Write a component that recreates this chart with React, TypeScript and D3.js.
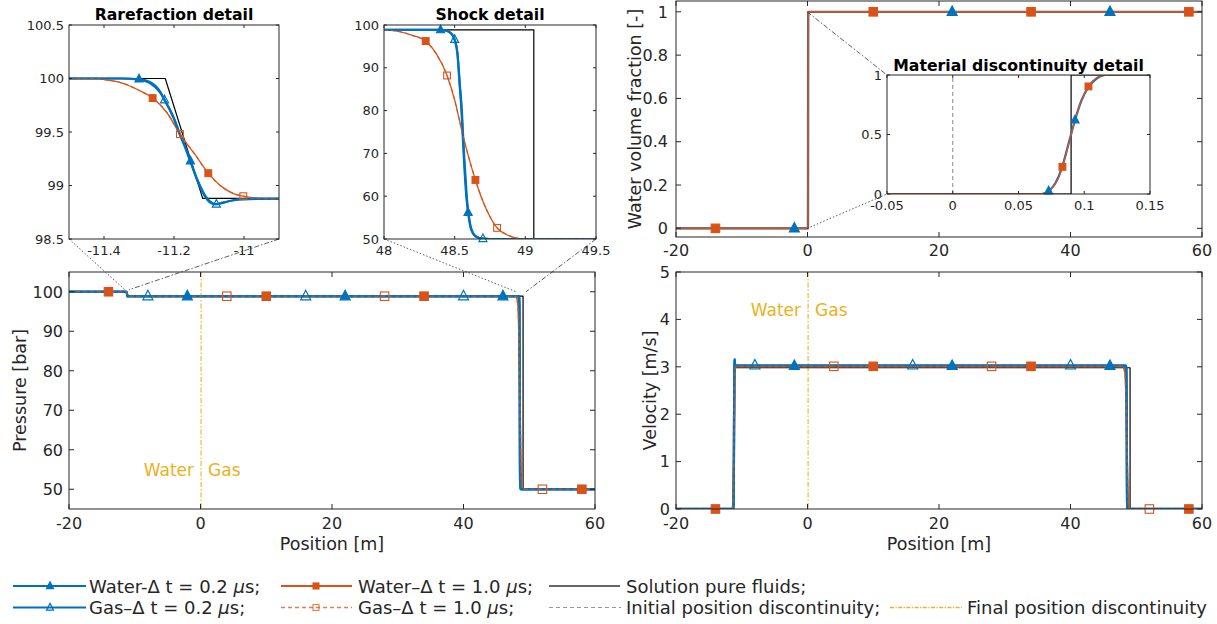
import React from "react";
import * as d3 from "d3";

type Pt = [number, number];

// ---------------- Tick values ----------------
const mainXTicks = [-20, 0, 20, 40, 60];
const pressureTicks = [50, 60, 70, 80, 90, 100];
const velocityTicks = [0, 1, 2, 3, 4, 5];
const fractionTicks = [0, 0.2, 0.4, 0.6, 0.8, 1];
const rareXTicks = [-11.4, -11.2, -11];
const rareYTicks = [98.5, 99, 99.5, 100, 100.5];
const shockXTicks = [48, 48.5, 49, 49.5];
const shockYTicks = [50, 60, 70, 80, 90, 100];
const matXTicks = [-0.05, 0, 0.05, 0.1, 0.15];
const matYTicks = [0, 0.5, 1];

// ---------------- Domains ----------------
const mainXDomain: Pt = [-20, 60];
const pressureDomain: Pt = [45, 105];
const velocityDomain: Pt = [0, 5];
const fractionDomain: Pt = [-0.04, 1.05];
const rareXDomain: Pt = [-11.5, -10.9];
const rareYDomain: Pt = [98.5, 100.5];
const shockXDomain: Pt = [48, 49.5];
const shockYDomain: Pt = [50, 100];
const matXDomain: Pt = [-0.05, 0.15];
const matYDomain: Pt = [0, 1];

// ---------------- Pressure [bar] ----------------
const pressureWater02: Pt[] = [
  [-20, 100], [-11.5, 100], [-11.35, 100], [-11.3, 99.995], [-11.27, 99.97], [-11.24, 99.88],
  [-11.227, 99.8], [-11.2, 99.63], [-11.184, 99.49], [-11.17, 99.38], [-11.153, 99.23],
  [-11.13, 99.03], [-11.11, 98.9], [-11.09, 98.835], [-11.079, 98.825], [-11.06, 98.84],
  [-11.03, 98.862], [-11.0, 98.872], [-10.95, 98.875], [48.0, 98.87], [48.4, 98.86],
  [48.44, 98.7], [48.48, 97.8], [48.5, 96.5], [48.52, 93], [48.535, 86], [48.548, 80],
  [48.557, 74], [48.565, 69], [48.571, 65.4], [48.585, 59], [48.595, 56.2], [48.61, 53],
  [48.63, 51.3], [48.66, 50.4], [48.697, 50.1], [48.75, 50], [60, 50],
];
const pressureGas02: Pt[] = [
  [-20, 100], [-11.5, 100], [-11.35, 100], [-11.3, 99.99], [-11.27, 99.96], [-11.24, 99.87],
  [-11.227, 99.8], [-11.2, 99.62], [-11.184, 99.48], [-11.17, 99.37], [-11.153, 99.22],
  [-11.13, 99.02], [-11.11, 98.89], [-11.09, 98.83], [-11.079, 98.825], [-11.06, 98.84],
  [-11.03, 98.862], [-11.0, 98.872], [-10.95, 98.875], [48.0, 98.87], [48.4, 98.86],
  [48.44, 98.72], [48.48, 97.9], [48.5, 96.6], [48.52, 93.5], [48.537, 86], [48.551, 80],
  [48.56, 74], [48.568, 69], [48.575, 65.4], [48.588, 59], [48.598, 56], [48.613, 53],
  [48.633, 51.2], [48.663, 50.35], [48.7, 50.08], [48.75, 50], [60, 50],
];
const pressureWater10: Pt[] = [
  [-20, 100], [-11.5, 100], [-11.42, 100], [-11.39, 99.985], [-11.35, 99.96], [-11.3, 99.89],
  [-11.261, 99.817], [-11.22, 99.68], [-11.183, 99.48], [-11.14, 99.29], [-11.102, 99.115],
  [-11.06, 98.98], [-11.03, 98.925], [-11.002, 98.9], [-10.96, 98.88], [-10.9, 98.875],
  [48.0, 98.85], [48.1, 98.5], [48.2, 97.6], [48.295, 96.25], [48.37, 93.3], [48.446, 88.2],
  [48.5, 82.5], [48.555, 74.7], [48.6, 69], [48.647, 63.8], [48.7, 58.8], [48.75, 55.2],
  [48.8, 52.6], [48.87, 51], [48.96, 50.1], [49.1, 50], [60, 50],
];
const pressureGas10: Pt[] = [
  [-20, 100], [-11.5, 100], [-11.42, 100], [-11.39, 99.985], [-11.35, 99.96], [-11.3, 99.89],
  [-11.261, 99.815], [-11.22, 99.68], [-11.183, 99.48], [-11.14, 99.29], [-11.102, 99.11],
  [-11.06, 98.98], [-11.03, 98.925], [-11.002, 98.9], [-10.96, 98.88], [-10.9, 98.875],
  [48.0, 98.85], [48.1, 98.5], [48.2, 97.6], [48.295, 96.2], [48.37, 93.2], [48.446, 88.2],
  [48.5, 82.4], [48.555, 74.6], [48.6, 69], [48.647, 63.8], [48.7, 58.8], [48.75, 55.2],
  [48.8, 52.6], [48.87, 51], [48.96, 50.1], [49.1, 50], [60, 50],
];
const pressureExact: Pt[] = [
  [-20, 100], [-11.225, 100], [-11.118, 98.88], [49.06, 98.88], [49.06, 50], [60, 50],
];

// markers (position, value)
const pressureMarkW02: Pt[] = [[-2, 98.87], [22, 98.87], [46, 98.87]];
const pressureMarkG02: Pt[] = [[-8, 98.87], [16, 98.87], [40, 98.87]];
const pressureMarkW10: Pt[] = [[-14, 100], [10, 98.87], [34, 98.87], [58, 50]];
const pressureMarkG10: Pt[] = [[4, 98.87], [28, 98.87], [52, 50]];

const rareMarkW02: Pt[] = [[-11.3, 99.995], [-11.153, 99.23]];
const rareMarkG02: Pt[] = [[-11.227, 99.8], [-11.079, 98.825]];
const rareMarkW10: Pt[] = [[-11.261, 99.817], [-11.102, 99.115]];
const rareMarkG10: Pt[] = [[-11.183, 99.48], [-11.002, 98.9]];

const shockMarkW02: Pt[] = [[48.4, 98.86], [48.595, 56.2]];
const shockMarkG02: Pt[] = [[48.5, 96.6], [48.7, 50.08]];
const shockMarkW10: Pt[] = [[48.295, 96.25], [48.647, 63.8]];
const shockMarkG10: Pt[] = [[48.446, 88.2], [48.8, 52.6]];

// ---------------- Velocity [m/s] ----------------
const velocityWater02: Pt[] = [
  [-20, 0], [-11.4, 0], [-11.3, 0.01], [-11.27, 0.08], [-11.227, 0.53], [-11.184, 1.37],
  [-11.153, 2.06], [-11.13, 2.6], [-11.11, 2.94], [-11.09, 3.1], [-11.079, 3.14], [-11.06, 3.1],
  [-11.03, 3.04], [-10.95, 3.02], [48.4, 3.02], [48.48, 2.98], [48.5, 2.87], [48.52, 2.6],
  [48.535, 2.22], [48.557, 1.48], [48.571, 0.95], [48.585, 0.56], [48.595, 0.38], [48.61, 0.18],
  [48.63, 0.08], [48.66, 0.02], [48.7, 0], [60, 0],
];
const velocityGas02: Pt[] = [
  [-20, 0], [-11.4, 0], [-11.3, 0.01], [-11.27, 0.09], [-11.227, 0.55], [-11.184, 1.4],
  [-11.153, 2.1], [-11.13, 2.62], [-11.11, 2.96], [-11.09, 3.12], [-11.079, 3.16], [-11.06, 3.11],
  [-11.03, 3.05], [-10.95, 3.03], [48.4, 3.03], [48.48, 2.99], [48.5, 2.9], [48.52, 2.65],
  [48.537, 2.22], [48.56, 1.48], [48.575, 0.95], [48.588, 0.56], [48.598, 0.37], [48.613, 0.17],
  [48.633, 0.07], [48.663, 0.02], [48.7, 0], [60, 0],
];
const velocityWater10: Pt[] = [
  [-20, 0], [-11.42, 0], [-11.39, 0.04], [-11.35, 0.11], [-11.3, 0.29], [-11.261, 0.49],
  [-11.22, 0.85], [-11.183, 1.39], [-11.14, 1.9], [-11.102, 2.38], [-11.06, 2.74],
  [-11.03, 2.88], [-11.002, 2.95], [-10.96, 2.99], [-10.9, 3.01], [48.0, 3.01], [48.1, 2.98],
  [48.2, 2.93], [48.295, 2.85], [48.37, 2.67], [48.446, 2.35], [48.5, 2.0], [48.555, 1.52],
  [48.6, 1.17], [48.647, 0.85], [48.7, 0.54], [48.75, 0.32], [48.8, 0.16], [48.87, 0.06],
  [48.96, 0.01], [49.1, 0], [60, 0],
];
const velocityGas10: Pt[] = [
  [-20, 0], [-11.42, 0], [-11.39, 0.04], [-11.35, 0.11], [-11.3, 0.29], [-11.261, 0.5],
  [-11.22, 0.86], [-11.183, 1.39], [-11.14, 1.9], [-11.102, 2.39], [-11.06, 2.74],
  [-11.03, 2.88], [-11.002, 2.95], [-10.96, 2.99], [-10.9, 3.01], [48.0, 3.01], [48.1, 2.98],
  [48.2, 2.93], [48.295, 2.84], [48.37, 2.66], [48.446, 2.35], [48.5, 2.0], [48.555, 1.51],
  [48.6, 1.17], [48.647, 0.85], [48.7, 0.54], [48.75, 0.32], [48.8, 0.16], [48.87, 0.06],
  [48.96, 0.01], [49.1, 0], [60, 0],
];
const velocityExact: Pt[] = [
  [-20, 0], [-11.225, 0], [-11.118, 2.98], [49.06, 2.98], [49.06, 0], [60, 0],
];
const velocityMarkW02: Pt[] = [[-2, 3.02], [22, 3.02], [46, 3.02]];
const velocityMarkG02: Pt[] = [[-8, 3.03], [16, 3.03], [40, 3.03]];
const velocityMarkW10: Pt[] = [[-14, 0], [10, 3.01], [34, 3.01], [58, 0]];
const velocityMarkG10: Pt[] = [[4, 3.01], [28, 3.01], [52, 0]];

// ---------------- Water volume fraction [-] ----------------
const fractionWater02: Pt[] = [
  [-20, 0], [0.068, 0], [0.0729, 0.025], [0.078, 0.09], [0.083, 0.22], [0.088, 0.42],
  [0.093, 0.622], [0.098, 0.79], [0.104, 0.91], [0.11, 0.975], [0.116, 1], [60, 1],
];
const fractionWater10: Pt[] = [
  [-20, 0], [0.066, 0], [0.07, 0.01], [0.075, 0.045], [0.08, 0.125], [0.0834, 0.228],
  [0.087, 0.37], [0.09, 0.5], [0.093, 0.62], [0.097, 0.76], [0.1032, 0.904], [0.108, 0.965],
  [0.113, 0.993], [0.118, 1], [60, 1],
];
const fractionExact: Pt[] = [[-20, 0], [0.09, 0], [0.09, 1], [60, 1]];
const fractionMarkW02: Pt[] = [[-2, 0], [22, 1], [46, 1]];
const fractionMarkW10: Pt[] = [[-14, 0], [10, 1], [34, 1], [58, 1]];
const matMarkW02: Pt[] = [[0.0729, 0.025], [0.093, 0.622]];
const matMarkW10: Pt[] = [[0.0834, 0.228], [0.1032, 0.904]];

const initialInterface = 0;
const finalInterface = 0.09;

// ---------------- Styling / layout ----------------
const BLUE = "#0072BD";
const ORANGE = "#D95319";
const YELLOW = "#EDB120";
const AX = "#262626";
const FONT = "'DejaVu Sans', sans-serif";

type Box = [number, number, number, number];
const P_BOX: Box = [69, 272, 595, 509];
const V_BOX: Box = [676, 272, 1202, 509];
const F_BOX: Box = [676, 1, 1202, 237];
const R_BOX: Box = [69, 25, 279, 239];
const S_BOX: Box = [384, 25, 596, 239];
const M_BOX: Box = [887, 75, 1150, 194];

const fmt = (v: number) => String(+v.toFixed(4));

type LineSpec = { data: Pt[]; color: string; width: number; dash?: string; smooth?: boolean; opacity?: number };
type MarkSpec = { data: Pt[]; shape: "tri" | "sq"; filled: boolean; color: string; size: number };

function Marker({ shape, filled, color, size, x, y, opacity }: any) {
  if (shape === "tri") {
    const h = size * 0.95;
    const d = `M${x},${y - h * 0.62}L${x + size / 2},${y + h * 0.38}L${x - size / 2},${y + h * 0.38}Z`;
    return <path d={d} fill={filled ? color : "none"} stroke={color} strokeWidth={1.2} strokeOpacity={opacity ?? 1} />;
  }
  return (
    <rect x={x - size / 2} y={y - size / 2} width={size} height={size}
      fill={filled ? color : "none"} stroke={color} strokeWidth={1.1} strokeOpacity={opacity ?? 1} />
  );
}

function mkScales(box: Box, xd: Pt, yd: Pt) {
  const xs = d3.scaleLinear().domain(xd).range([box[0], box[2]]);
  const ys = d3.scaleLinear().domain(yd).range([box[3], box[1]]);
  return { xs, ys };
}

function Axes(props: {
  id: string; box: Box; xs: any; ys: any; xTicks: number[]; yTicks: number[];
  lines: LineSpec[]; marks: MarkSpec[]; tickLen: number; fontSize: number;
  xLabelDy: number; yLabelDx: number; bg?: boolean; under?: React.ReactNode; over?: React.ReactNode;
}) {
  const { id, box, xs, ys, xTicks, yTicks, lines, marks, tickLen, fontSize, xLabelDy, yLabelDx, bg, under, over } = props;
  const [L, T, R, B] = box;
  return (
    <g>
      {bg && <rect x={L} y={T} width={R - L} height={B - T} fill="#fff" />}
      <defs>
        <clipPath id={id}><rect x={L} y={T} width={R - L} height={B - T} /></clipPath>
      </defs>
      <g clipPath={`url(#${id})`}>
        {under}
        {lines.map((s, i) => {
          const gen = d3.line<Pt>().x((d) => xs(d[0])).y((d) => ys(d[1]))
            .curve(s.smooth ? d3.curveMonotoneX : d3.curveLinear);
          return (
            <path key={i} d={gen(s.data) || ""} fill="none" stroke={s.color} strokeWidth={s.width}
              strokeDasharray={s.dash} strokeOpacity={s.opacity ?? 1} strokeLinejoin="round" />
          );
        })}
        {over}
      </g>
      {marks.map((m, i) => (
        <g key={i}>
          {m.data.map((p, j) => (
            <Marker key={j} shape={m.shape} filled={m.filled} color={m.color} size={m.size}
              x={xs(p[0])} y={ys(p[1])} />
          ))}
        </g>
      ))}
      <rect x={L} y={T} width={R - L} height={B - T} fill="none" stroke={AX} strokeWidth={1} />
      {xTicks.map((t) => (
        <g key={"x" + t}>
          <line x1={xs(t)} x2={xs(t)} y1={B} y2={B - tickLen} stroke={AX} />
          <line x1={xs(t)} x2={xs(t)} y1={T} y2={T + tickLen} stroke={AX} />
          <text x={xs(t)} y={B + xLabelDy} textAnchor="middle" fontSize={fontSize} fill={AX} fontFamily={FONT}>{fmt(t)}</text>
        </g>
      ))}
      {yTicks.map((t) => (
        <g key={"y" + t}>
          <line x1={L} x2={L + tickLen} y1={ys(t)} y2={ys(t)} stroke={AX} />
          <line x1={R} x2={R - tickLen} y1={ys(t)} y2={ys(t)} stroke={AX} />
          <text x={L - yLabelDx} y={ys(t) + fontSize * 0.36} textAnchor="end" fontSize={fontSize} fill={AX} fontFamily={FONT}>{fmt(t)}</text>
        </g>
      ))}
    </g>
  );
}

// plotting order: water series first, then gas series
function phaseLines(w02: Pt[], g02: Pt[] | null, w10: Pt[], g10: Pt[] | null, exact: Pt[], inset: boolean): LineSpec[] {
  const bw = inset ? 2.2 : 2.4;
  const ow = inset ? 1.3 : 1.6;
  const out: LineSpec[] = [{ data: exact, color: "#000", width: 1.2 }];
  out.push({ data: w02, color: BLUE, width: bw, smooth: true });
  out.push({ data: w10, color: ORANGE, width: ow, smooth: true });
  if (g02) out.push({ data: g02, color: BLUE, width: bw, smooth: true });
  if (g10) out.push({ data: g10, color: ORANGE, width: ow, dash: "4,3", smooth: true, opacity: 0.75 });
  return out;
}

function phaseMarks(w02: Pt[], g02: Pt[] | null, w10: Pt[], g10: Pt[] | null, size: number): MarkSpec[] {
  const out: MarkSpec[] = [{ data: w02, shape: "tri", filled: true, color: BLUE, size }];
  out.push({ data: w10, shape: "sq", filled: true, color: ORANGE, size: size * 0.85 });
  if (g02) out.push({ data: g02, shape: "tri", filled: false, color: BLUE, size });
  if (g10) out.push({ data: g10, shape: "sq", filled: false, color: ORANGE, size: size * 0.85 });
  return out;
}

export default function App() {
  const P = mkScales(P_BOX, mainXDomain, pressureDomain);
  const V = mkScales(V_BOX, mainXDomain, velocityDomain);
  const F = mkScales(F_BOX, mainXDomain, fractionDomain);
  const Rr = mkScales(R_BOX, rareXDomain, rareYDomain);
  const S = mkScales(S_BOX, shockXDomain, shockYDomain);
  const M = mkScales(M_BOX, matXDomain, matYDomain);

  const finalLine = (sc: any, box: Box) => (
    <line x1={sc.xs(finalInterface)} x2={sc.xs(finalInterface)} y1={box[1]} y2={box[3]}
      stroke={YELLOW} strokeWidth={1.1} strokeDasharray="5,2,1.5,2" />
  );
  const initialLine = (sc: any, y0: number, y1: number) => (
    <line x1={sc.xs(initialInterface)} x2={sc.xs(initialInterface)} y1={sc.ys(y0)} y2={sc.ys(y1)}
      stroke="#888" strokeWidth={1} strokeDasharray="4,3" />
  );
  const phaseText = (sc: any, y: number) => (
    <g fontFamily={FONT} fontSize={17} fill={YELLOW}>
      <text x={sc.xs(finalInterface) - 7} y={sc.ys(y) + 6} textAnchor="end">Water</text>
      <text x={sc.xs(finalInterface) + 7} y={sc.ys(y) + 6} textAnchor="start">Gas</text>
    </g>
  );
  const conn = (x1: number, y1: number, x2: number, y2: number, dash: string) => (
    <line x1={x1} y1={y1} x2={x2} y2={y2} stroke="#333" strokeWidth={0.8} strokeDasharray={dash} />
  );
  const DOT = "1.5,2";
  const DASHDOT = "5,2,1.5,2";

  const legendRow1 = 586;
  const legendRow2 = 607.5;
  const legFont = 18;
  const titleFont = 15.7;

  return (
    <svg width={1217} height={624} style={{ position: "absolute", left: 0, top: 0, background: "#fff" }}
      fontFamily={FONT}>
      <rect width={1217} height={624} fill="#fff" />

      {/* Pressure */}
      <Axes id="cp" box={P_BOX} xs={P.xs} ys={P.ys} xTicks={mainXTicks} yTicks={pressureTicks}
        lines={phaseLines(pressureWater02, pressureGas02, pressureWater10, pressureGas10, pressureExact, false)}
        marks={phaseMarks(pressureMarkW02, pressureMarkG02, pressureMarkW10, pressureMarkG10, 10)}
        tickLen={5} fontSize={16} xLabelDy={20} yLabelDx={6}
        under={<>{finalLine(P, P_BOX)}{phaseText(P, 55)}</>} />
      <text x={(P_BOX[0] + P_BOX[2]) / 2} y={550} textAnchor="middle" fontSize={17.5} fill={AX}>Position [m]</text>
      <text transform={`translate(26,${(P_BOX[1] + P_BOX[3]) / 2}) rotate(-90)`} textAnchor="middle" fontSize={17.5} fill={AX}>Pressure [bar]</text>

      {/* Velocity */}
      <Axes id="cv" box={V_BOX} xs={V.xs} ys={V.ys} xTicks={mainXTicks} yTicks={velocityTicks}
        lines={phaseLines(velocityWater02, velocityGas02, velocityWater10, velocityGas10, velocityExact, false)}
        marks={phaseMarks(velocityMarkW02, velocityMarkG02, velocityMarkW10, velocityMarkG10, 10)}
        tickLen={5} fontSize={16} xLabelDy={20} yLabelDx={6}
        under={<>{finalLine(V, V_BOX)}{phaseText(V, 4.2)}</>} />
      <text x={(V_BOX[0] + V_BOX[2]) / 2} y={550} textAnchor="middle" fontSize={17.5} fill={AX}>Position [m]</text>
      <text transform={`translate(656,${(V_BOX[1] + V_BOX[3]) / 2}) rotate(-90)`} textAnchor="middle" fontSize={17.5} fill={AX}>Velocity [m/s]</text>

      {/* Volume fraction */}
      <Axes id="cf" box={F_BOX} xs={F.xs} ys={F.ys} xTicks={mainXTicks} yTicks={fractionTicks}
        lines={phaseLines(fractionWater02, null, fractionWater10, null, fractionExact, false)}
        marks={phaseMarks(fractionMarkW02, null, fractionMarkW10, null, 10)}
        tickLen={5} fontSize={16} xLabelDy={19} yLabelDx={8}
        under={initialLine(F, 0, 1)} />
      <text transform={`translate(641,${(F_BOX[1] + F_BOX[3]) / 2}) rotate(-90)`} textAnchor="middle" fontSize={17.5} fill={AX}>Water volume fraction [-]</text>

      {/* Inset: material discontinuity */}
      <Axes id="cm" box={M_BOX} xs={M.xs} ys={M.ys} xTicks={matXTicks} yTicks={matYTicks}
        lines={phaseLines(fractionWater02, null, fractionWater10, null, fractionExact, true)}
        marks={phaseMarks(matMarkW02, null, matMarkW10, null, 8)}
        tickLen={3} fontSize={13} xLabelDy={16} yLabelDx={5} bg
        under={initialLine(M, 0, 1)} />
      <text x={(M_BOX[0] + M_BOX[2]) / 2} y={71} textAnchor="middle" fontSize={titleFont} fontWeight="bold" fill="#000">Material discontinuity detail</text>
      {conn(F.xs(matXDomain[0]), F.ys(1), M_BOX[0], M_BOX[1], DASHDOT)}
      {conn(F.xs(matXDomain[0]), F.ys(0), M_BOX[0], M_BOX[3], DOT)}

      {/* Inset: rarefaction */}
      <Axes id="cr" box={R_BOX} xs={Rr.xs} ys={Rr.ys} xTicks={rareXTicks} yTicks={rareYTicks}
        lines={phaseLines(pressureWater02, pressureGas02, pressureWater10, pressureGas10, pressureExact, true)}
        marks={phaseMarks(rareMarkW02, rareMarkG02, rareMarkW10, rareMarkG10, 8)}
        tickLen={3} fontSize={13} xLabelDy={16} yLabelDx={5} bg />
      <text x={(R_BOX[0] + R_BOX[2]) / 2} y={20} textAnchor="middle" fontSize={titleFont} fontWeight="bold" fill="#000">Rarefaction detail</text>
      {conn(R_BOX[0], R_BOX[3], P.xs(rareXDomain[0]), P.ys(rareYDomain[1]), DOT)}
      {conn(R_BOX[2], R_BOX[3], P.xs(rareXDomain[1]), P.ys(rareYDomain[1]), DASHDOT)}

      {/* Inset: shock */}
      <Axes id="cs" box={S_BOX} xs={S.xs} ys={S.ys} xTicks={shockXTicks} yTicks={shockYTicks}
        lines={phaseLines(pressureWater02, pressureGas02, pressureWater10, pressureGas10, pressureExact, true)}
        marks={phaseMarks(shockMarkW02, shockMarkG02, shockMarkW10, shockMarkG10, 8)}
        tickLen={3} fontSize={13} xLabelDy={16} yLabelDx={5} bg />
      <text x={(S_BOX[0] + S_BOX[2]) / 2} y={20} textAnchor="middle" fontSize={titleFont} fontWeight="bold" fill="#000">Shock detail</text>
      {conn(S_BOX[0], S_BOX[3], P.xs(shockXDomain[0]), P.ys(shockYDomain[1]), DOT)}
      {conn(S_BOX[2], S_BOX[3], P.xs(shockXDomain[1]), P.ys(shockYDomain[1]), DASHDOT)}

      {/* Legend */}
      <g fontSize={legFont} fill={AX}>
        <line x1={13} x2={86} y1={legendRow1} y2={legendRow1} stroke={BLUE} strokeWidth={2} />
        <Marker shape="tri" filled color={BLUE} size={7} x={50} y={legendRow1} />
        <text x={89} y={legendRow1 + 6.5}>Water-Δ t = 0.2 <tspan fontStyle="italic">μ</tspan>s;</text>
        <line x1={13} x2={86} y1={legendRow2} y2={legendRow2} stroke={BLUE} strokeWidth={2} />
        <Marker shape="tri" filled={false} color={BLUE} size={7} x={50} y={legendRow2} />
        <text x={89} y={legendRow2 + 6.5}>Gas–Δ t = 0.2 <tspan fontStyle="italic">μ</tspan>s;</text>

        <line x1={281} x2={352} y1={legendRow1} y2={legendRow1} stroke={ORANGE} strokeWidth={1.8} />
        <Marker shape="sq" filled color={ORANGE} size={6} x={316} y={legendRow1} />
        <text x={358} y={legendRow1 + 6.5}>Water–Δ t = 1.0 <tspan fontStyle="italic">μ</tspan>s;</text>
        <line x1={281} x2={352} y1={legendRow2} y2={legendRow2} stroke={ORANGE} strokeWidth={1.5} strokeDasharray="4,3" strokeOpacity={0.75} />
        <Marker shape="sq" filled={false} color={ORANGE} size={6} x={316} y={legendRow2} opacity={0.75} />
        <text x={358} y={legendRow2 + 6.5}>Gas–Δ t = 1.0 <tspan fontStyle="italic">μ</tspan>s;</text>

        <line x1={549} x2={620} y1={legendRow1} y2={legendRow1} stroke="#333" strokeWidth={1.5} />
        <text x={626} y={legendRow1 + 6.5}>Solution pure fluids;</text>
        <line x1={549} x2={621} y1={legendRow2} y2={legendRow2} stroke="#999" strokeWidth={1.2} strokeDasharray="4,3" />
        <text x={626} y={legendRow2 + 6.5}>Initial position discontinuity;</text>

        <line x1={890} x2={962} y1={legendRow2} y2={legendRow2} stroke={YELLOW} strokeWidth={1.6} strokeDasharray="4,1.5,1.2,1.5" />
        <text x={967} y={legendRow2 + 6.5}>Final position discontinuity</text>
      </g>
    </svg>
  );
}
